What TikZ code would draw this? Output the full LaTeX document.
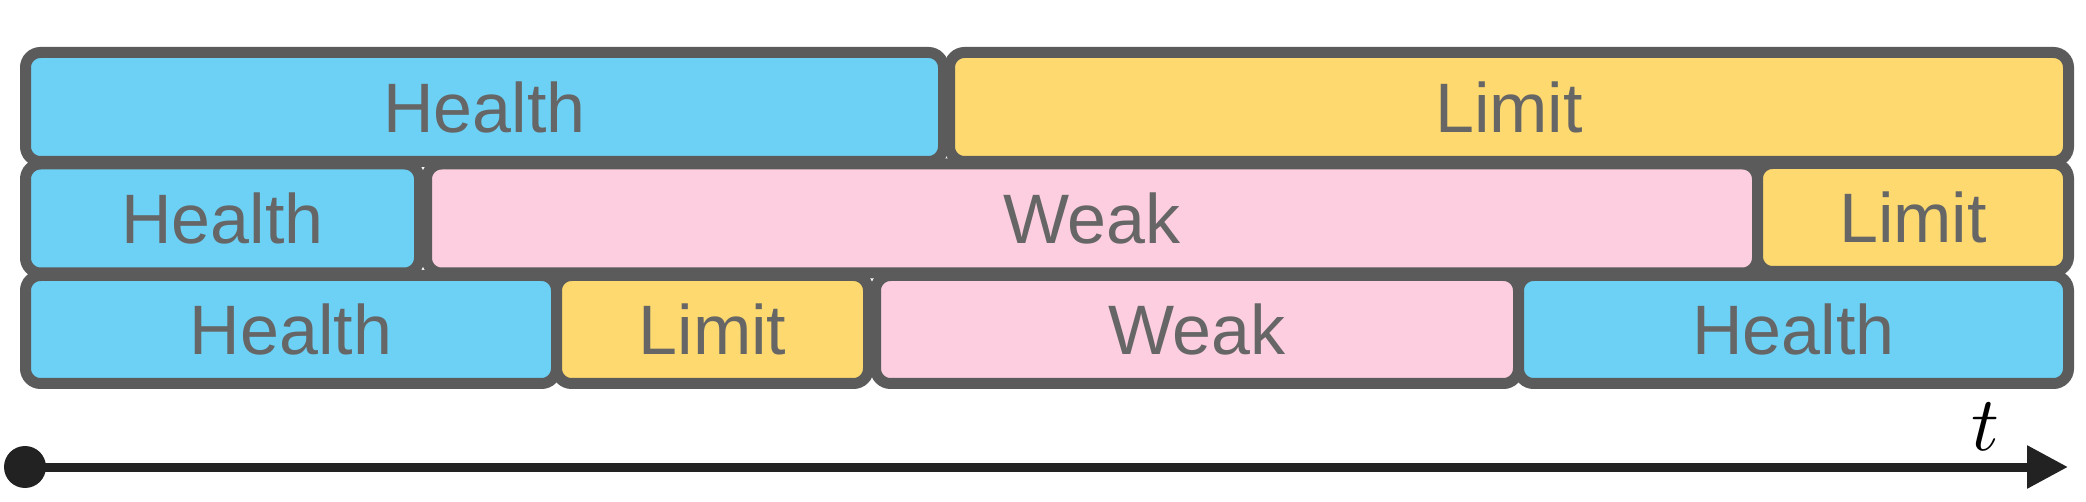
\documentclass[tikz,border=0pt]{standalone}
\usepackage{fontspec}
\newfontfamily\boxfont{Liberation Sans}
\usetikzlibrary{arrows.meta}
\definecolor{bordergray}{HTML}{5B5B5B}
\definecolor{textgray}{HTML}{666666}
\definecolor{hblue}{HTML}{6CD1F5}
\definecolor{lyellow}{HTML}{FDD96F}
\definecolor{wpink}{HTML}{FCCEDF}
\definecolor{axisblack}{HTML}{222222}
\tikzset{
  stagebox/.style={draw=bordergray, line width=11pt, rounded corners=15pt,
    inner sep=0pt, outer sep=0pt, text=textgray,
    font=\boxfont\fontsize{70}{84}\selectfont},
  healthbox/.style={stagebox, fill=hblue},
  limitbox/.style={stagebox, fill=lyellow},
  weakbox/.style={stagebox, fill=wpink},
}
\begin{document}
\begin{tikzpicture}[x=1pt,y=-1pt]
\useasboundingbox (0,0) rectangle (2086,502);
% row 1
\node[healthbox, minimum width=918pt, minimum height=109pt] (r1h) at (484.5,107) {Health};
\node[limitbox, minimum width=1119pt, minimum height=109pt] (r1l) at (1509,107) {Limit};
% row 2
\node[healthbox, minimum width=394pt, minimum height=109pt] (r2h) at (222.5,218.5) {Health};
\node[weakbox, minimum width=1331pt, minimum height=109pt] (r2w) at (1092,218.5) {Weak};
\node[limitbox, minimum width=311pt, minimum height=108pt] (r2l) at (1913,217.5) {Limit};
% row 3
\node[healthbox, minimum width=531pt, minimum height=108pt] (r3h) at (291,329.5) {Health};
\node[limitbox, minimum width=312pt, minimum height=108pt] (r3l) at (712.5,329.5) {Limit};
\node[weakbox, minimum width=643pt, minimum height=108pt] (r3w) at (1197,329.5) {Weak};
\node[healthbox, minimum width=550pt, minimum height=108pt] (r3h2) at (1793.5,329.5) {Health};
% time axis
\node[circle, fill=axisblack, minimum size=42pt, inner sep=0pt] (start) at (25,467) {};
\coordinate (tend) at (2068,467);
\draw[axisblack, line width=9pt, -{Triangle[length=41pt,width=41pt]}] (start.center) -- (tend);
\node[inner sep=0pt, scale=7.7] (tlabel) at (1985,427) {$t$};
\end{tikzpicture}
\end{document}
